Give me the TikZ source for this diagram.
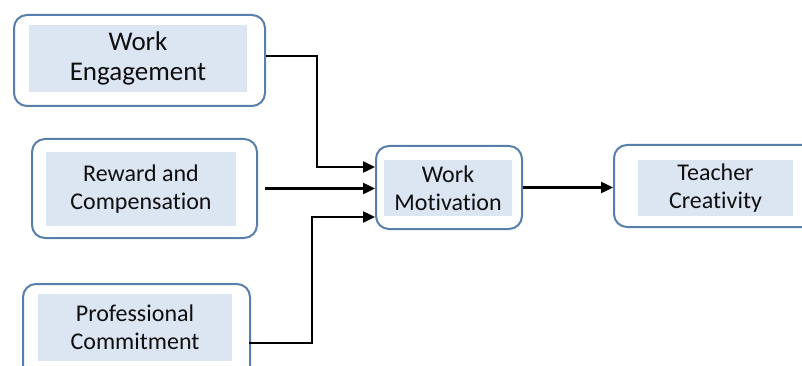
\documentclass[tikz,border=0pt]{standalone}
\usepackage{fontspec}
\setmainfont[Ligatures=NoCommon]{Carlito}
\usetikzlibrary{arrows.meta,calc}
\definecolor{boxline}{RGB}{88,126,172}
\definecolor{innerfill}{RGB}{220,230,242}
\definecolor{txt}{RGB}{15,15,15}
\tikzset{
  outerbox/.style={draw=boxline, line width=2pt, rounded corners=13pt, fill=white, inner sep=0pt},
  innerbox/.style={fill=innerfill, inner sep=0pt, align=center, text=txt, font=\fontsize{24}{28}\selectfont},
  conn/.style={line width=2.4pt, -{Triangle[length=12pt,width=11pt]}},
}
\begin{document}
\begin{tikzpicture}[x=1pt,y=-1pt]
\useasboundingbox (0,0) rectangle (802,366);
% outer boxes
\node[outerbox, minimum width=251pt, minimum height=91pt] (b1) at (139.5,60.5) {};
\node[outerbox, minimum width=225pt, minimum height=99pt] (b2) at (144.5,188.5) {};
\node[outerbox, minimum width=227pt, minimum height=95pt] (b3) at (136.5,331.5) {};
\node[outerbox, minimum width=146pt, minimum height=83pt] (b4) at (449,187.5) {};
\node[outerbox, minimum width=204pt, minimum height=82pt] (b5) at (716,186) {};
% inner labels
\node[innerbox, minimum width=218pt, minimum height=67pt, font=\fontsize{27}{30}\selectfont] (t1) at (138,58.5) {Work\\Engagement};
\node[innerbox, minimum width=190pt, minimum height=74pt] (t2) at (141,189) {Reward and\\Compensation};
\node[innerbox, minimum width=194pt, minimum height=67pt] (t3) at (135,327.5) {Professional\\Commitment};
\node[innerbox, minimum width=128pt, minimum height=56pt] (t4) at (448,188) {Work\\Motivation};
\node[innerbox, minimum width=155pt, minimum height=56pt] (t5) at (715.5,188) {Teacher\\Creativity};
% connectors
\coordinate (s1) at ([yshift=4.5pt]b1.east);
\coordinate (e1) at ([yshift=20.5pt]b4.west);
\draw[conn] (s1) -- (317,0 |- s1) -- (317,0 |- e1) -- (e1);
\coordinate (e2) at ([yshift=-1pt]b4.west);
\draw[conn, shorten <=7pt] (b2.east |- e2) -- (e2);
\coordinate (s3) at ([xshift=-2pt,yshift=-11.5pt]b3.east);
\coordinate (e3) at ([yshift=-29.5pt]b4.west);
\draw[conn] (s3) -- (312,0 |- s3) -- (312,0 |- e3) -- (e3);
\draw[conn] (b4.east) -- (b4.east -| b5.west);
\end{tikzpicture}
\end{document}
